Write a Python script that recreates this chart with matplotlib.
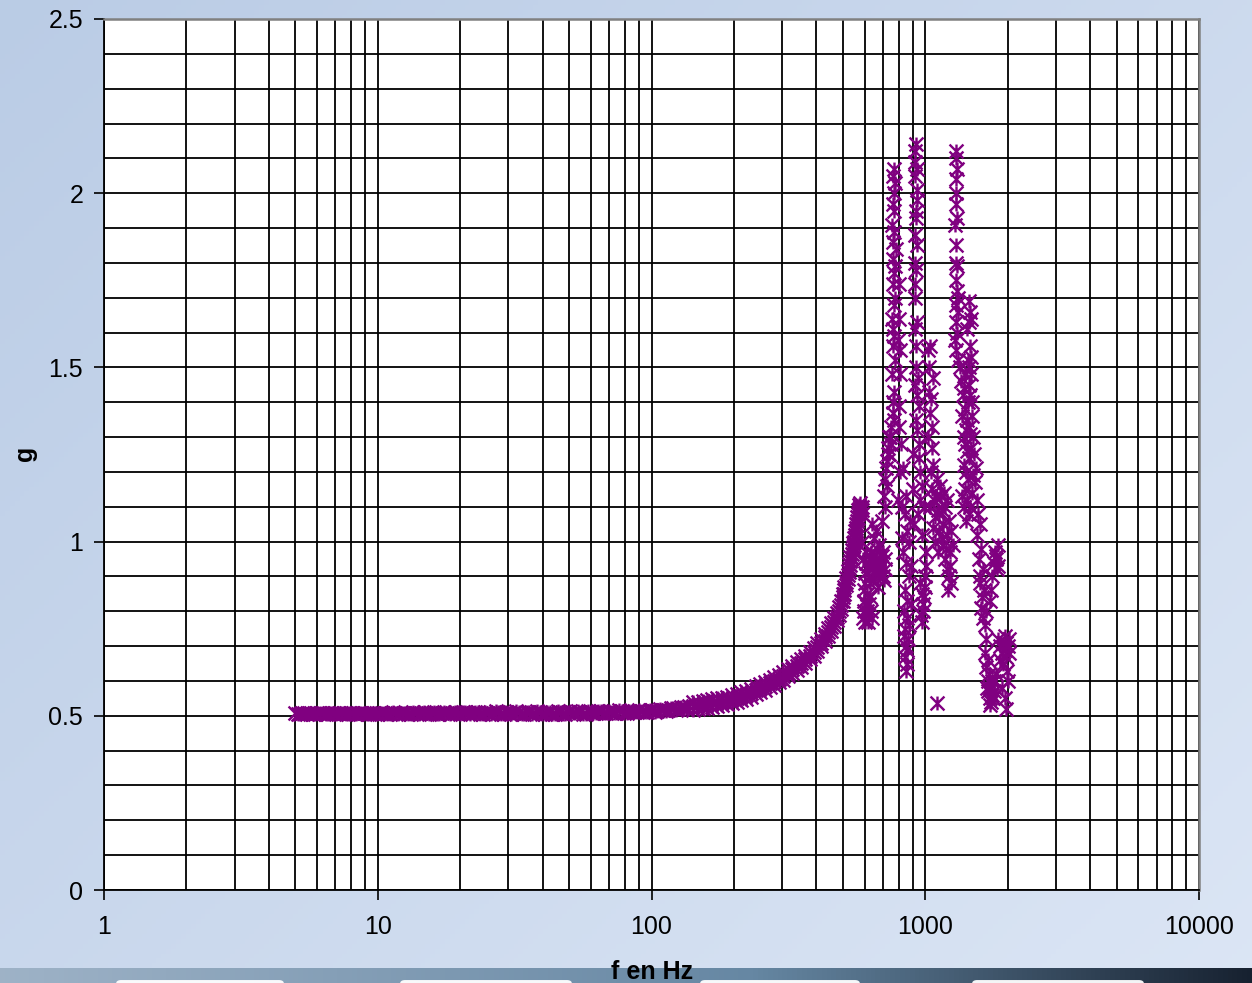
import numpy as np
import matplotlib
matplotlib.use("Agg")
import matplotlib.pyplot as plt
from matplotlib.path import Path
from matplotlib.patches import FancyBboxPatch

# ---------------- data ----------------
f_flat = [5.0, 5.2, 5.4, 5.6, 5.8, 6.0, 6.3, 6.6, 6.9, 7.2, 7.5, 7.8, 8.1, 8.5, 8.9, 9.3, 9.7,
          10.1, 10.6, 11.1, 11.6, 12.1, 12.6, 13.2, 13.8, 14.4, 15.0, 15.7, 16.4, 17.1, 17.9, 18.7, 19.5, 20.4,
          21.3, 22.2, 23.2, 24.2, 25.3, 26.4, 27.6, 28.8, 30.1, 31.4, 32.8, 34.3, 35.8, 37.4, 39.0, 40.7, 42.5, 44.4, 46.4,
          48.4, 50.5, 52.7, 55.0, 57.5, 60.0, 62.6, 65.4, 68.3, 71.3, 74.4, 77.7, 81.1, 84.7, 88.4, 92.3, 96.4,
          100.6, 105, 110, 115, 120, 125, 131, 137]
g_flat = [0.507, 0.506, 0.508, 0.507, 0.506, 0.507, 0.508, 0.506, 0.507, 0.507, 0.508, 0.506, 0.507, 0.508, 0.507, 0.506, 0.507,
          0.507, 0.508, 0.506, 0.507, 0.509, 0.507, 0.506, 0.508, 0.507, 0.509, 0.508, 0.506, 0.507, 0.509, 0.507, 0.508, 0.510,
          0.508, 0.507, 0.510, 0.506, 0.509, 0.508, 0.511, 0.506, 0.509, 0.507, 0.511, 0.505, 0.510, 0.507, 0.512, 0.505, 0.511, 0.506, 0.512,
          0.506, 0.513, 0.507, 0.512, 0.505, 0.511, 0.508, 0.513, 0.507, 0.512, 0.509, 0.514, 0.508, 0.513, 0.510, 0.515, 0.511,
          0.516, 0.513, 0.518, 0.516, 0.521, 0.519, 0.524, 0.527]

f_flat_mid = [5.1, 5.3, 5.5, 5.7, 5.9, 6.15, 6.45, 6.75, 7.05, 7.35, 7.65, 7.95, 8.3, 8.7, 9.1,
              9.5, 9.9, 10.35, 10.85, 11.35, 11.85, 12.35, 12.9, 13.5, 14.1, 14.7, 15.35, 16.05, 16.75, 17.5,
              18.3, 19.1, 19.95, 20.85, 21.75, 22.7, 23.7, 24.75, 25.85, 27.0, 28.2, 29.45, 30.75, 32.1, 33.55,
              35.05, 36.6, 38.2, 39.85, 41.6, 43.45, 45.4, 47.4, 49.45, 51.6, 53.85, 56.25, 58.75, 61.3, 64.0,
              66.85, 69.85, 72.85, 76.05, 79.4, 82.9, 86.55, 90.35, 94.35, 98.5, 102.8, 107.5, 112.5, 117.5, 122.5,
              128, 134]
g_flat_mid = [0.505, 0.509, 0.506, 0.508, 0.505, 0.509, 0.506, 0.508, 0.505, 0.509, 0.506, 0.508, 0.505, 0.509, 0.506,
              0.508, 0.505, 0.509, 0.506, 0.510, 0.505, 0.509, 0.506, 0.510, 0.505, 0.510, 0.506, 0.511, 0.505, 0.510,
              0.506, 0.511, 0.505, 0.512, 0.506, 0.511, 0.505, 0.512, 0.506, 0.513, 0.505, 0.512, 0.506, 0.513, 0.504,
              0.512, 0.506, 0.513, 0.505, 0.512, 0.506, 0.513, 0.505, 0.512, 0.507, 0.514, 0.506, 0.513, 0.508, 0.515,
              0.507, 0.514, 0.509, 0.516, 0.508, 0.515, 0.510, 0.517, 0.511, 0.518, 0.512, 0.519, 0.514, 0.521, 0.517,
              0.526, 0.522]

f_rise = [142, 148, 154, 160, 167, 174, 181, 189, 197, 205, 213, 222, 231, 240, 250,
          260, 270, 281, 292, 303, 315, 327, 339, 352, 365, 378, 391, 404, 417, 430,
          442, 454, 465, 475, 484, 492, 500, 507, 514, 521, 527, 533, 539, 545, 550,
          555, 560, 565, 570, 575, 580, 585]
g_rise_hi = [0.539, 0.540, 0.543, 0.545, 0.547, 0.550, 0.552, 0.555, 0.559, 0.563, 0.567, 0.571, 0.576, 0.585, 0.591,
             0.597, 0.604, 0.611, 0.618, 0.626, 0.635, 0.644, 0.653, 0.663, 0.673, 0.684, 0.695, 0.708, 0.721, 0.736,
             0.751, 0.766, 0.781, 0.796, 0.811, 0.829, 0.851, 0.871, 0.896, 0.916, 0.936, 0.956, 0.976, 0.996, 1.011,
             1.031, 1.051, 1.071, 1.091, 1.106, 1.110, 1.100]
g_rise_mid = [0.528, 0.530, 0.532, 0.534, 0.536, 0.539, 0.541, 0.544, 0.548, 0.552, 0.556, 0.560, 0.565, 0.574, 0.580,
              0.586, 0.593, 0.600, 0.607, 0.615, 0.624, 0.633, 0.642, 0.652, 0.662, 0.673, 0.684, 0.697, 0.710, 0.725,
              0.740, 0.755, 0.770, 0.785, 0.800, 0.818, 0.840, 0.860, 0.885, 0.905, 0.925, 0.945, 0.965, 0.985, 1.000,
              1.020, 1.040, 1.060, 1.080, 1.095, 1.100, 1.090]
g_rise_lo = [0.517, 0.519, 0.521, 0.523, 0.525, 0.528, 0.530, 0.533, 0.537, 0.541, 0.545, 0.549, 0.554, 0.563, 0.569,
             0.575, 0.582, 0.589, 0.596, 0.604, 0.613, 0.622, 0.631, 0.641, 0.651, 0.662, 0.673, 0.686, 0.699, 0.714,
             0.729, 0.744, 0.759, 0.774, 0.789, 0.807, 0.829, 0.849, 0.874, 0.894, 0.914, 0.934, 0.954, 0.974, 0.989,
             1.009, 1.029, 1.049, 1.069, 1.084, 1.090, 1.080]

cluster_600 = [(588, 1.00), (590, 0.95), (592, 0.78), (595, 0.80), (598, 0.83), (596, 0.86), (600, 0.88), (603, 0.91),
               (605, 0.94), (607, 0.97), (600, 0.77), (606, 0.82), (610, 0.79), (612, 0.85), (615, 0.80), (620, 0.77),
               (625, 0.82), (630, 0.84), (635, 0.80), (640, 0.78)]
cluster_650 = [(620, 0.93), (625, 0.90), (630, 0.95), (635, 0.97), (640, 0.92), (645, 0.89), (650, 0.96), (655, 0.91),
               (660, 0.94), (665, 0.98), (670, 0.91), (675, 0.99), (680, 0.95), (685, 0.90), (690, 0.93), (695, 0.96),
               (700, 0.97), (705, 0.89), (710, 0.92), (715, 0.95), (650, 1.01), (640, 1.05), (660, 1.03), (630, 0.88),
               (670, 0.87), (645, 0.94), (680, 0.92), (700, 0.90)]
cluster_720 = [(695, 1.06), (705, 1.13), (712, 1.18), (718, 1.21), (722, 1.23), (728, 1.27), (735, 1.30), (730, 1.25),
               (725, 1.16), (715, 1.10)]
peak_770 = [(770, 2.07), (760, 2.05), (775, 2.03), (765, 1.97), (770, 1.95), (758, 1.91), (772, 1.89), (765, 1.86),
            (762, 1.81), (776, 1.79), (768, 1.77), (760, 1.74), (774, 1.70), (766, 1.68), (758, 1.64), (770, 1.59),
            (762, 1.56), (778, 1.52), (756, 1.48), (770, 1.43), (764, 1.40), (760, 1.37), (772, 1.35), (750, 1.33),
            (745, 1.30), (752, 1.28), (740, 1.25), (768, 2.00), (780, 1.84), (765, 1.61)]
cluster_805 = [(800, 1.74), (805, 1.64), (795, 1.58), (810, 1.48), (800, 1.39), (815, 1.28), (808, 1.20), (798, 1.12),
               (812, 1.55), (803, 1.33)]
cluster_850 = [(830, 1.21), (850, 1.13), (820, 1.10), (840, 1.08), (860, 1.03), (830, 0.97), (850, 0.94), (870, 0.90),
               (840, 0.86), (860, 0.83), (835, 0.80), (855, 0.78), (845, 0.75), (865, 0.72), (850, 0.70), (840, 0.67),
               (855, 0.65), (848, 0.63), (870, 1.00), (880, 1.06), (825, 1.01), (890, 0.93), (885, 0.82), (860, 0.69),
               (838, 0.73), (875, 0.76)]
peak_925 = [(925, 2.14), (920, 2.12), (930, 2.07), (918, 2.05), (935, 2.01), (925, 1.95), (928, 1.93), (915, 1.88),
            (932, 1.85), (920, 1.80), (926, 1.78), (915, 1.70), (935, 1.63), (920, 1.61), (925, 1.50), (940, 1.47),
            (915, 1.45), (930, 1.42), (945, 1.39), (925, 1.35), (935, 1.32), (950, 1.28), (920, 2.09), (930, 1.98),
            (918, 1.74), (928, 1.56)]
cluster_950 = [(900, 1.25), (950, 1.24), (960, 1.20), (905, 1.15), (955, 1.12), (975, 1.16), (990, 1.10), (910, 1.05),
               (940, 1.08), (970, 1.02), (960, 0.88), (970, 0.85), (980, 0.82), (965, 0.79), (975, 0.77), (985, 0.80),
               (990, 0.84), (1000, 0.87), (995, 0.90), (1010, 0.93), (1005, 0.97)]
cluster_1040 = [(1020, 1.55), (1035, 1.50), (1045, 1.56), (1030, 1.43), (1050, 1.41), (1040, 1.37), (1060, 1.33),
                (1025, 1.30), (1070, 1.47), (1055, 1.27), (1065, 1.22)]
cluster_1150 = [(1040, 1.10), (1060, 1.15), (1080, 1.12), (1100, 1.18), (1120, 1.08), (1140, 1.13), (1160, 1.05),
                (1180, 1.10), (1200, 1.02), (1220, 1.06), (1070, 1.04), (1090, 1.00), (1110, 1.09), (1130, 1.16),
                (1150, 1.01), (1170, 1.14), (1190, 0.98), (1050, 1.20), (1085, 1.07), (1125, 1.03), (1165, 0.99),
                (1205, 1.12), (1240, 1.03), (1260, 0.99), (1230, 0.97), (1180, 0.95), (1200, 0.92), (1220, 0.90),
                (1240, 0.88), (1210, 0.86), (1230, 0.93), (1095, 1.13), (1150, 1.09), (1115, 0.97), (1100, 0.537)]
peak_1300 = [(1300, 2.12), (1290, 2.10), (1305, 2.07), (1295, 2.04), (1300, 2.00), (1290, 1.97), (1310, 1.93),
             (1285, 1.91), (1300, 1.85), (1295, 1.80), (1305, 1.79), (1290, 1.75), (1310, 1.72), (1320, 1.70),
             (1295, 1.68), (1315, 1.66), (1290, 1.63), (1305, 1.60), (1280, 1.58), (1300, 1.55), (1320, 1.52),
             (1340, 1.50)]
cluster_1430 = [(1440, 1.69), (1460, 1.66), (1450, 1.63), (1420, 1.61), (1470, 1.64), (1430, 1.52), (1450, 1.50),
                (1470, 1.48), (1440, 1.45), (1460, 1.42), (1480, 1.40), (1400, 1.38), (1420, 1.35), (1440, 1.33),
                (1460, 1.31), (1380, 1.30), (1400, 1.28), (1420, 1.26), (1440, 1.24), (1350, 1.46), (1370, 1.42),
                (1360, 1.36), (1480, 1.36), (1490, 1.30), (1470, 1.27), (1390, 1.22), (1410, 1.20), (1430, 1.18),
                (1380, 1.44), (1400, 1.48), (1455, 1.56), (1475, 1.53), (1430, 1.40), (1410, 1.32),
                (1400, 1.15), (1420, 1.12), (1440, 1.08), (1460, 1.10), (1480, 1.14), (1500, 1.19), (1410, 1.06),
                (1360, 1.13), (1380, 1.10)]
cluster_1600 = [(1520, 1.17), (1540, 1.12), (1560, 1.08), (1580, 1.05), (1550, 1.02), (1600, 0.98), (1570, 0.95),
                (1620, 0.92), (1590, 0.90), (1640, 0.86), (1610, 0.84), (1660, 0.80), (1630, 0.78), (1650, 0.76),
                (1600, 0.81), (1580, 0.88), (1530, 1.21), (1510, 1.25)]
cluster_1800 = [(1800, 0.97), (1820, 0.95), (1840, 0.93), (1810, 0.96), (1830, 0.92), (1850, 0.99), (1790, 0.94),
                (1760, 0.90), (1740, 0.86), (1720, 0.83),
                (1650, 0.68), (1670, 0.64), (1690, 0.60), (1700, 0.57), (1720, 0.55), (1740, 0.54), (1760, 0.56),
                (1680, 0.58), (1710, 0.62), (1730, 0.58), (1750, 0.60), (1770, 0.55), (1790, 0.57), (1700, 0.66),
                (1660, 0.72), (1720, 0.53), (1780, 0.60)]
cluster_1950 = [(1850, 0.72), (1880, 0.70), (1900, 0.68), (1920, 0.71), (1950, 0.69), (1980, 0.67), (2000, 0.70),
                (2020, 0.72), (1870, 0.66), (1930, 0.65), (1960, 0.73), (1990, 0.63), (2010, 0.60), (1900, 0.58),
                (1950, 0.55), (1980, 0.52), (1820, 0.62), (2030, 0.68), (1970, 0.71)]

peak_clusters = [cluster_600, cluster_650, cluster_720, peak_770, cluster_805, cluster_850, peak_925,
                 cluster_950, cluster_1040, cluster_1150, peak_1300, cluster_1430, cluster_1600,
                 cluster_1800, cluster_1950]

x_ticks = [1, 10, 100, 1000, 10000]
x_tick_labels = ["1", "10", "100", "1000", "10000"]
y_ticks = [0, 0.5, 1, 1.5, 2, 2.5]
y_tick_labels = ["0", "0.5", "1", "1.5", "2", "2.5"]

# ---------------- figure ----------------
W, H = 1252, 983
fig = plt.figure(figsize=(W / 100, H / 100), dpi=100)

# background (slide gradient)
bg = fig.add_axes([0, 0, 1, 1], zorder=-10)
bg.set_axis_off()
yy, xx = np.mgrid[0:1:200j, 0:1:256j]
c_tl = np.array([0.73, 0.80, 0.90])
c_br = np.array([0.86, 0.90, 0.96])
t = np.clip(0.55 * xx + 0.45 * yy, 0, 1)[..., None]
img = c_tl * (1 - t) + c_br * t
bg.imshow(img, extent=[0, 1, 0, 1], aspect="auto", origin="upper")
# dark strip at the bottom
sx = np.linspace(0, 1, 256)[None, :, None]
c_l = np.array([0.62, 0.70, 0.78])
c_m = np.array([0.40, 0.53, 0.64])
c_r = np.array([0.09, 0.13, 0.19])
strip = np.where(sx < 0.6, c_l * (1 - sx / 0.6) + c_m * (sx / 0.6),
                 c_m * (1 - (sx - 0.6) / 0.4) + c_r * ((sx - 0.6) / 0.4))
strip = np.repeat(strip, 4, axis=0)
bg.imshow(strip, extent=[0, 1, 0, 15 / H], aspect="auto", origin="upper")
for x0, x1 in [(116, 284), (400, 572), (700, 860), (972, 1144)]:
    bg.add_patch(FancyBboxPatch((x0 / W, -0.01), (x1 - x0) / W, 0.013,
                                boxstyle="round,pad=0,rounding_size=0.004",
                                fc="white", ec="none", alpha=0.95))
bg.set_xlim(0, 1)
bg.set_ylim(0, 1)

ax = fig.add_axes([104 / W, 93 / H, 1095 / W, 871 / H])
ax.set_facecolor("white")
ax.set_xscale("log")
ax.set_xlim(1, 10000)
ax.set_ylim(0, 2.5)

purple = "#800080"
star = Path([(0, -1), (0, 1), (-1, -1), (1, 1), (-1, 1), (1, -1)],
            [Path.MOVETO, Path.LINETO] * 3)
mk = dict(linestyle="none", marker=star, markersize=10, markeredgewidth=1.7,
          color=purple, markerfacecolor="none", zorder=3)

ax.plot(f_flat, g_flat, **mk)
ax.plot(f_flat_mid, g_flat_mid, **mk)
ax.plot(f_rise, g_rise_hi, **mk)
ax.plot(f_rise, g_rise_mid, **mk)
ax.plot(f_rise, g_rise_lo, **mk)
for cl in peak_clusters:
    fx, gy = zip(*cl)
    ax.plot(fx, gy, **mk)

# grid
minor_x = [m * 10 ** d for d in range(0, 4) for m in range(2, 10)]
ax.set_xticks(x_ticks)
ax.set_xticklabels(x_tick_labels)
ax.set_xticks(minor_x, minor=True)
ax.set_yticks(y_ticks)
ax.set_yticklabels(y_tick_labels)
ax.set_yticks(np.round(np.arange(0, 2.51, 0.1), 2), minor=True)
ax.set_axisbelow(True)
ax.grid(which="both", color="black", linewidth=1.3)

ax.tick_params(which="major", direction="out", length=7, width=1.2, color="black",
               labelsize=18, labelcolor="black")
ax.tick_params(axis="x", which="major", pad=11)
ax.tick_params(axis="y", which="major", pad=8)
ax.tick_params(which="minor", length=0)
for lab in ax.get_xticklabels() + ax.get_yticklabels():
    lab.set_family(["Liberation Sans", "DejaVu Sans"])

for s in ["left", "bottom"]:
    ax.spines[s].set_color("black")
    ax.spines[s].set_linewidth(1.3)
for s in ["top", "right"]:
    ax.spines[s].set_color("#808080")
    ax.spines[s].set_linewidth(1.8)

lab_font = ["Liberation Sans Narrow", "Liberation Sans", "DejaVu Sans"]
fig.text(652 / W, 4 / H, "f en Hz", ha="center", va="baseline", fontsize=18,
         fontweight="bold", family=lab_font)
fig.text(25 / W, 1 - 453 / H, "g", ha="center", va="center", rotation=90,
         fontsize=18, fontweight="bold", family=lab_font)

fig.savefig("out.png", dpi=100)
